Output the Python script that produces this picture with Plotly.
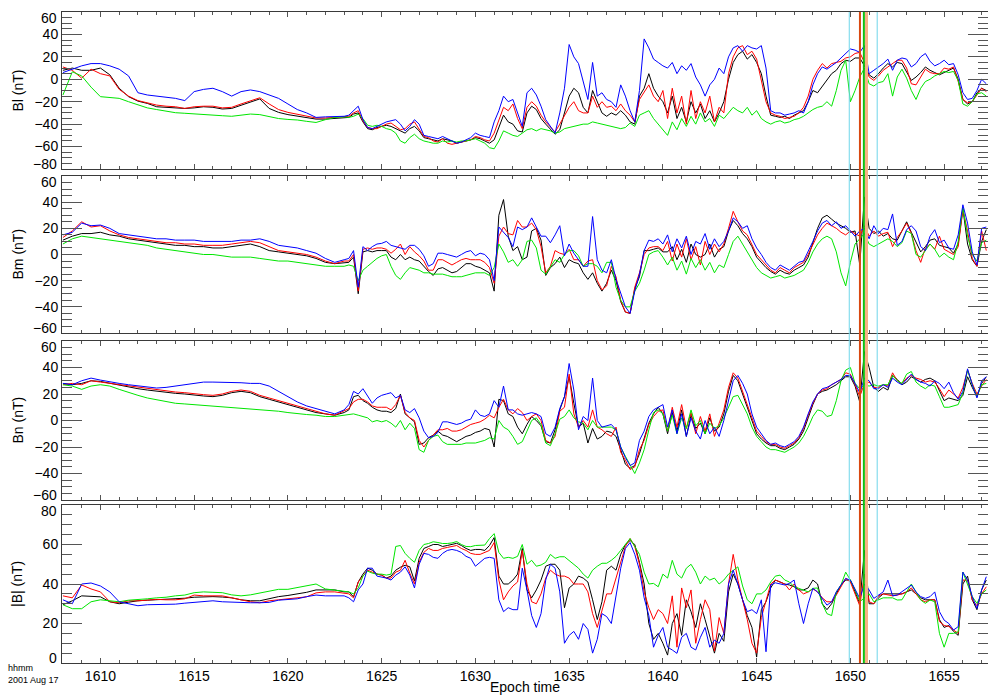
import plotly.graph_objects as go

# ---------------------------------------------------------------- time axis
# Epoch time as HHMM with fractional minutes (2001 Aug 17)
TIME = [1608.0 + 0.5 * i for i in range(31)] + [1623.25 + 0.25 * i for i in range(137)]

TICK_TIMES = [1610, 1615, 1620, 1625, 1630, 1635, 1640, 1645, 1650, 1655]
TICK_LABELS = ["1610", "1615", "1620", "1625", "1630", "1635", "1640", "1645", "1650", "1655"]

# marker lines (time, colour, width)
EVENT_TIMES = [1649.94, 1650.51, 1650.72, 1650.86, 1651.43]
EVENT_COLORS = ["#6fd6ea", "#d9480f", "#10c010", "#f6b285", "#6fd6ea"]
EVENT_WIDTHS = [1, 2, 2, 3, 1]

# ---------------------------------------------------------------- Bl (nT)
BL_BLACK = [8, 10, 8, 8, 10, 4, -8, -15.5, -19.5, -21.5, -24.5, -25, -25, -26, -25.5, -24.5,
            -25, -26.5, -26, -23, -20.5, -17.5, -26, -29.5, -31.5, -33, -34.5, -35.5, -35.5, -35, -34,
            -34, -31, -30, -38,  -44, -45, -43, -42,  -41, -42, -44, -46,  -48, -44, -42, -46,
            -52, -53, -54, -55,  -53, -54, -55, -57,  -56, -55, -54, -52,  -53, -55, -57, -54,
            -42, -32, -38, -40,  -46, -47, -30, -24,  -27, -35, -40, -45,  -49, -45, -30, -15,
            -8, -12, -25, -30,  -10, -20, -30, -33,  -30, -32, -28, -32,  -38, -40, -15, -8,
            5, -8, -15, -20,  -30, -15, -35, -25,  -38, -20, -30, -22,  -35, -28, -38, -30,
            -20, 0, 15, 22,  25, 18, 22, 15,  5, -15, -32, -33,  -34, -33, -35, -32,
            -30, -28, -20, -10,  -12, -6, -1, 5,  8, 14, 17, 16,  19, 19, 12, 4,
            1, 5, 10, 14,  11, 15, 14, 7,  -1, 2, 6, 11,  8, 6, 4, 6,
            8, 10, 0, -18,  -22, -20, -12, -8,  -10]
BL_RED = [11, 8, 1, 9, 5, 3, -9, -15, -19, -21, -23, -24, -24.5, -26, -24.5, -24,
          -24, -25.5, -25, -22, -19, -16.5, -22, -27, -29.5, -31, -33, -34.5, -34.5, -34, -33.5,
          -33, -30, -28, -37,  -43, -44, -44, -42,  -40, -39, -42, -45,  -44, -40, -38, -45,
          -51, -52, -55, -56,  -53, -57, -58, -57,  -56, -55, -54, -51,  -52, -54, -55, -48,
          -36, -25, -28, -22,  -35, -44, -25, -20,  -24, -32, -38, -43,  -47, -40, -32, -25,
          -20, -28, -30, -30,  -15, -25, -20, -25,  -24, -28, -22, -28,  -32, -38, -18, -12,
          -5, -15, -20, -10,  -35, -8, -30, -15,  -40, -10, -35, -20,  -30, -15, -38, -25,
          -30, 5, 20, 28,  30, 22, 25, 18,  0, -20, -30, -32,  -33, -35, -34, -33,
          -30, -25, -15, 0,  8, 14, 10, 14,  15, 16, 19, 20,  23, 24, 15, 2,
          -1, 3, 8, 11,  14, 17, 17, 10,  -4, -5, 2, 9,  6, 5, 5, 10,
          9, 11, -2, -18,  -21, -20, -14, -8,  -11]
BL_GREEN = [-14, 6.7, 3, -7, -15.5, -16.5, -17, -20, -23, -25.5, -27, -28.5, -29.8, -30.3, -30.7, -31.5,
            -32, -32.5, -33, -32, -31, -31.5, -33, -35, -35.8, -36.3, -37.5, -38.5, -36, -34, -33.5,
            -34, -33, -31, -35,  -41, -42, -41, -42,  -44, -45, -48, -55,  -57, -52, -49, -53,
            -55, -56, -57, -57,  -55, -56, -55, -56,  -55, -55, -54, -53,  -55, -57, -61, -62,
            -55, -46, -48, -50,  -51, -48, -45, -44,  -46, -44, -45, -46,  -48, -47, -44, -43,
            -42, -41, -40, -40,  -38, -39, -40, -41,  -42, -43, -44, -43,  -39, -42, -32, -30,
            -28, -35, -40, -45,  -50, -38, -45, -35,  -42, -33, -40, -30,  -38, -35, -42, -32,
            -35, -30, -25, -28,  -30, -25, -32, -28,  -35, -38, -40, -38,  -37, -39, -38, -36,
            -35, -33, -30, -27,  -25, -24, -20, -24,  -10, 8, 17, -20,  -10, 2, 10, -4,
            -6, -3, -2, 5,  -15, 2, 9, 1,  -10, -18, -8, -2,  0, 3, 5, 7,
            6, 7, -1, -22,  -24, -20, -13, -12,  -15]
BL_BLUE = [6, 9, 12, 14, 14, 12, 9, 3, -12, -14, -15, -16, -17, -19, -11, -9,
           -8, -11, -15, -11, -9.5, -11, -14, -17, -22, -27, -30, -34, -33.5, -33, -33,
           -32, -28, -24, -36,  -43, -44, -42, -40,  -38, -37, -36, -40,  -46, -42, -36, -40,
           -50, -51, -52, -53,  -51, -53, -55, -57,  -56, -54, -52, -48,  -50, -51, -52, -38,
           -28, -15, -20, -18,  -30, -42, -12, -8,  -14, -24, -36, -42,  -48, -30, -8, 31,
           20, 14, -2, -18,  15, -15, -12, -18,  -20, -25, -5, -15,  -28, -38, -10, 36,
           28, 18, 15, 12,  10, 15, 5, 12,  8, 14, 2, -5,  -15, -5, 0, 10,
           5, 20, 28, 30,  25, 30, 28, 27,  30, 10, -28, -30,  -30, -32, -31, -30,
           -28, -30, -20, -5,  5, 11, 9, 12,  15, 19, 23, 27,  26, 24, 30, 5,
           8, 11, 14, 18,  8, 17, 19, 18,  11, 14, 20, 23,  16, 12, 14, 17,
           13, 14, 4, -12,  -18, -17, -10, 0,  -4]

# ---------------------------------------------------------------- Bm (nT)
BM_BLACK = [11, 14, 16, 16, 17, 15, 14, 12, 11, 10, 9, 8, 7, 7, 6, 6,
            5, 5, 6, 7, 8, 6, 3, 2, 1, 0, -1, -3, -6, -7, -6,
            -6, -2, -30, 2,  3, 2, 3, 3,  3, -2, -4, 0,  -4, -2, -4, -5,
            -9, -13, -16, -11,  -10, -12, -14, -13,  -10, -7, -7, -9,  -10, -12, -14, -28,
            30, 42, 14, 3,  6, -4, -2, 18,  20, 11, -16, -10,  -7, -2, -10, -4,
            -6, -7, -14, -19,  -14, -22, -28, -22,  -12, -20, -36, -44,  -45, -26, -17, 3,
            3, 4, 5, 2,  2, 6, -4, 4,  -6, 8, 0, -2,  0, 8, -2, 4,
            6, 18, 26, 22,  16, 12, 6, -2,  -6, -10, -13, -15,  -12, -14, -15, -12,
            -10, -8, -2, 10,  20, 28, 30, 27,  24, 22, 20, 17,  18, -8, 44, 20,
            16, 18, 14, 16,  12, 11, 18, 25,  17, 10, 2, 6,  11, 12, 7, 6,
            5, 1, 8, 35,  8, -4, -9, 10,  19]
BM_RED = [13, 18, 25, 21, 22, 18, 15, 13, 12, 11, 10, 9, 9, 8, 8, 7,
          7, 7, 8, 9, 10, 9, 6, 3, 2, 1, 0, -2, -5, -7, -5,
          -5, 0, -28, 4,  5, 4, 5, 5,  4, 1, 4, 8,  0, 6, 2, -1,
          -5, -12, -12, -4,  -4, -6, -8, -6,  -4, -3, -4, -4,  -4, -6, -10, -22,
          14, 21, 16, 15,  26, 21, 21, 24,  19, 6, -14, -9,  3, 1, 0, 4,
          -4, -4, -9, -5,  -4, -20, -27, -24,  -9, -17, -35, -44,  -45, -25, -14, 0,
          5, 6, 6, 3,  10, -5, 8, -2,  12, -4, 6, -8,  10, 0, 8, 2,
          8, 20, 33, 25,  18, 15, 8, 0,  -4, -8, -12, -14,  -10, -12, -14, -10,
          -8, -6, 0, 8,  15, 20, 24, 22,  20, 17, 15, 18,  16, 14, 22, 14,
          18, 14, 16, 17,  6, 13, 18, 24,  16, 3, -6, 5,  8, 4, 14, 4,
          2, 0, 6, 34,  18, -3, -9, 18,  3]
BM_GREEN = [8, 12, 14, 13, 12, 11.5, 10, 9, 8, 7, 5, 4, 3, 2, 1, 0,
            0, -1, -2, -2, -2, -3, -4, -5, -5, -6, -7, -8, -9, -9, -9,
            -8, -9, -20, -12,  -9, -6, -3, -1,  0, -9, -16, -19,  -14, -10, -11, -12,
            -14, -14, -15, -15,  -15, -16, -17, -17,  -17, -16, -15, -14,  -14, -14, -16, -10,
            8, 2, -6, -4,  -9, -4, 10, 11,  5, -12, -15, -10,  -4, -6, 0, 3,
            3, -1, -9, -7,  -7, -9, -14, -6,  -6, -25, -35, -40,  -40, -28, -22, -12,
            0, 2, 3, -2,  -8, -2, -12, -5,  -15, -3, -10, -4,  -12, -6, -14, -8,
            -10, 0, 10, 14,  8, 2, -4, -10,  -14, -16, -18, -17,  -16, -18, -17, -16,
            -14, -12, -6, 2,  8, 12, 14, 12,  2, -14, -24, -6,  8, 12, 16, 8,
            6, 8, 10, 12,  10, 6, 9, 18,  16, 0, -2, 3,  8, 4, -2, 1,
            -2, -4, 10, 36,  14, 0, -5, 9,  11]
BM_BLUE = [15, 17, 24, 22, 22.5, 20, 16, 15, 14, 13, 12, 12, 11, 11, 11, 10,
           10, 10, 10, 11, 11, 12, 10, 7, 6, 5, 3, 1, -3, -6, -4,
           -3, 3, -25, 6,  3, 6, 8, 8.5,  10, 7, 6, 5,  4, 7, 7, 4,
           -1, -9, -7, 1,  1, 0, -1, -2,  0, 2, 3, -1,  1, 0, -4, -20,
           21, 17, 13, 6,  21, 19, 21, 28,  21, 14, 14, 9,  15, 22, -1, 8,
           1, -4, -9, -9,  29, -4, -12, -14,  -4, -19, -30, -40,  -45, -28, -15, 3,
           11, 10, 12, 8,  15, 2, 12, 5,  14, 0, 10, 8,  16, 4, 12, 6,
           10, 18, 28, 25,  20, 22, 12, 5,  0, -6, -10, -12,  -8, -10, -12, -9,
           -6, -5, 2, 10,  18, 24, 26, 22,  25, 20, 22, 18,  14, 18, 20, 12,
           22, 16, 20, 19,  31, 7, 10, 19,  22, 18, 6, 3,  14, 19, 9, 11,
           5, 4, 15, 38,  24, 2, -8, 20,  21]

# ---------------------------------------------------------------- Bn (nT)
BN_BLACK = [28, 27, 28, 30, 29.5, 28, 27, 25, 24, 23, 22, 21, 20.5, 20, 19, 18.5,
            18, 19, 21, 22, 21, 18, 16, 14, 12, 10, 8, 6, 5, 4, 6,
            8, 18, 19, 15,  13, 10, 8, 7,  7, 6, 9, 20,  5, 2, -1, -18,
            -17, -13, -11, -8,  -11, -12, -14, -16,  -14, -12, -11, -9,  -8, -6, -7, -20,
            16, 15, 5, 3,  -5, -10, -3, 3,  0, -4, -16, -17,  -7, 8, 18, 33,
            13, -5, -2, -17,  -6, -14, -12, -8,  -9, -12, -22, -33,  -36, -34, -25, -13,
            -2, 5, 10, 5,  -10, 6, -8, 8,  -12, 4, -6, -2,  -10, 2, -8, -5,
            5, 22, 34, 30,  20, 10, 0, -10,  -14, -17, -19, -19,  -21, -22, -20, -18,
            -14, -8, 2, 12,  20, 22, 23, 25,  27, 30, 33, 33,  26, 14, 52, 40,
            25, 22, 25, 23,  34, 31, 27, 29,  33, 31, 29, 31,  32, 30, 22, 15,
            17, 16, 15, 19,  33, 25, 18, 28,  33]
BN_RED = [27, 28, 27, 30, 29, 28, 27, 26, 25, 24, 23, 22, 21.5, 21, 20, 19.5,
          19, 20, 22, 23, 22, 19, 17, 15, 13, 11, 9, 7, 5, 4, 7,
          9, 14, 16, 16,  14, 11, 10, 10,  10, 8, 12, 19,  6, 2, 0, -15,
          -20, -15, -11, -7,  -7, -6, -8, -8,  -7, -5, -3, -2,  -1, 1, 4, 2,
          10, 16, 8, 5,  9, 6, 0, 3,  5, 0, -15, -17,  -12, 7, 10, 35,
          5, -5, 0, -5,  8, -5, -7, -10,  -12, -5, -24, -30,  -37, -35, -22, -15,
          -3, 3, 7, 8,  -8, 10, -5, 12,  -6, 6, -10, 3,  -8, 5, -12, -2,
          8, 25, 36, 32,  22, 12, 2, -8,  -12, -16, -18, -18,  -20, -21, -19, -17,
          -13, -6, 4, 13,  20, 23, 24, 27,  29, 31, 36, 35,  27, 18, 28, 29,
          25, 25, 27, 26,  36, 30, 28, 32,  34, 32, 31, 29,  30, 29, 24, 18,
          23, 20, 17, 25,  38, 28, 20, 26,  31]
BN_GREEN = [27, 26, 23.5, 26, 27, 26, 23.5, 21, 19, 17, 15.5, 14, 13, 12.5, 12, 11.5,
            11, 10, 9.5, 9, 9, 8.5, 8, 7, 6, 5, 4.5, 4, 3, 3, 4,
            5, 5, 4, 3,  2, -1, 0, -1,  0, -2, -5, 0,  -7, -2, -6, -22,
            -24, -15, -12, -11,  -16, -18, -18, -18,  -18, -17, -17, -17,  -16, -15, -13, -14,
            0, -5, -7, -12,  -18, -16, -8, 0,  2, -3, -17, -19,  -10, 1, 3, 8,
            2, -1, -2, -7,  0, -5, -5, -5,  -5, -7, -20, -27,  -34, -40, -32, -22,
            -7, 6, 8, 5,  -8, 4, -10, 2,  -6, 8, -4, 0,  -10, -2, -6, -4,
            2, 10, 18, 19,  12, 5, -5, -12,  -16, -20, -22, -22,  -23, -24, -22, -20,
            -17, -12, -5, 3,  8, 7, 3, 4,  15, 30, 38, 40,  28, 24, 27, 26,
            27, 26, 27, 27,  34, 30, 28, 35,  37, 29, 26, 24,  27, 26, 18, 10,
            10, 11, 12, 21,  38, 27, 18, 27,  28]
BN_BLUE = [28, 27, 30, 32, 30.5, 29, 28, 27, 26, 25, 24.5, 25, 26, 27, 28, 29,
           29, 29, 29, 28.5, 28, 28, 26, 22, 18, 14, 11, 9, 7, 5, 8,
           12, 22, 20, 24,  18, 13, 17, 19,  20, 21, 17, 19,  8, 6, 9, 2,
           -8, -13, -12, -9,  -1, -1, -2, -3,  -2, 0, 1, 8,  4, 3, 5, 15,
           10, 26, 8, 8,  5, 4, 5, 6,  5, 3, -10, -12,  -5, 9, 18, 43,
           23, -7, 3, 0,  32, 0, -5, -4,  -3, -7, -20, -28,  -34, -32, -15, -8,
           3, 8, 10, 12,  -5, 8, -10, 5,  -12, 2, -8, -14,  0, -10, -5, -12,
           0, 15, 30, 34,  28, 20, 5, -5,  -10, -15, -18, -17,  -19, -20, -18, -16,
           -12, -5, 5, 14,  20, 24, 25, 27,  29, 31, 34, 34,  28, 21, 32, 30,
           24, 24, 27, 25,  32, 29, 27, 31,  35, 31, 29, 28,  26, 30, 28, 24,
           29, 21, 16, 22,  39, 27, 17, 30,  33]

# ---------------------------------------------------------------- |B| (nT)
BT_BLACK = [29.5, 31.5, 34, 33.8, 33.5, 31, 30, 30.8, 31.5, 31.8, 32, 32.3, 32.5, 32.8, 33.3, 33.6,
            33.6, 33.4, 33, 32, 31.5, 31.5, 32.5, 33.6, 34.2, 35, 35.8, 37, 37, 37, 36,
            36, 33.5, 41, 45,  48, 47, 45, 44.5,  43, 44, 47, 48.5,  49.5, 48.7, 41.5, 53,
            58, 59, 60, 60,  59, 59.5, 60, 60.6,  59.5, 58, 57, 57.5,  57.5, 57, 59.5, 63.5,
            44, 40, 40, 42,  45, 58, 37, 33,  37, 42, 49, 50,  50, 47, 28, 38,
            40, 44, 43, 41,  32, 22, 31, 47,  49, 47, 55, 60,  62, 60, 51, 40,
            20, 12, 15, 10,  4, 20, 25, 14,  32, 26, 18, 30,  22, 13, 5, 15,
            11, 36, 45, 40,  32, 24, 18, 3,  27, 31, 38, 42,  41, 40, 39.5, 38.6,
            37, 37, 38, 42,  40, 30, 27, 30,  35, 39.5, 42, 42,  36, 30, 57, 30,
            30, 33, 35, 35,  35, 35, 35, 36,  37, 35, 33, 32,  32, 32, 22, 18,
            19, 16, 14, 40,  44, 32, 27, 37,  42]
BT_RED = [34, 33, 39.5, 37.5, 36, 31, 30.5, 31.5, 31.5, 31.8, 32.2, 32, 32, 32.5, 34.4, 34,
          34, 34, 33, 32, 31, 30.5, 31.5, 32, 32.5, 33, 33.5, 35.5, 36, 36, 35.5,
          35, 33, 41, 44,  47, 46, 45, 44.5,  43, 43, 46, 47,  52, 45.5, 40, 51,
          56, 58, 57, 57,  58, 58.5, 59, 59.5,  58, 57, 55.5, 55,  55, 56, 57, 61,
          42, 32, 36, 39,  41, 57, 40, 31,  30, 35, 43, 47,  45, 44, 44, 43,
          40, 40, 40, 36,  25, 18, 27, 35,  35, 43, 52, 59,  63, 59, 50, 36,
          28, 22, 27, 25,  20, 34, 8, 38,  28, 37, 10, 22,  32, 27, 6, 23,
          15, 40, 55, 42,  32, 22, 10, 5,  23, 32, 40, 42,  41, 40, 37, 40,
          37, 35, 36, 37.5,  36, 33, 31, 31,  34.4, 38.6, 42.8, 41,  35, 29, 45, 31,
          30, 34, 35, 34.5,  34, 34.4, 35, 36,  38, 35, 32, 31,  32, 32, 21, 19,
          18.5, 16.7, 15, 42,  42, 32, 29, 35,  38.6]
BT_GREEN = [29.5, 27.5, 27.5, 31, 32, 31.5, 31, 31.8, 32, 32.5, 33, 33.3, 34, 34.4, 35.6, 36,
            35.8, 35.6, 34.5, 34, 34.5, 35.5, 36.5, 37.3, 37.3, 38.2, 39, 40, 37.5, 37, 36.5,
            36, 35, 38, 44,  46.5, 45.5, 45, 45,  44.5, 45, 59, 59.5,  55.5, 53, 51, 57,
            60, 60.5, 61.4, 61,  60.5, 60.5, 60.8, 61.5,  60, 59, 58.9, 59.5,  59.7, 59.7, 63, 65.5,
            56, 53, 53.5, 53,  54, 60, 50, 52,  49, 49.6, 51, 55,  53, 53.8, 53.8, 52,
            50, 48, 45, 43,  47, 49, 50.5, 50.5,  52, 54, 57, 60,  63, 59, 55, 46,
            40, 40.3, 38.6, 45,  43, 52, 45, 43,  48, 50, 46, 40,  44, 42, 43, 40,
            42, 45, 47, 48.7,  39, 32, 30, 35,  35, 37, 41, 44,  44.5, 42, 41, 38.6,
            37.8, 37, 36, 37.8,  38, 30, 25, 24,  36, 39.5, 46, 42,  37, 31, 33, 35,
            31, 32, 33, 33,  33, 31.9, 32, 36,  40, 36, 31.9, 30.2,  31.9, 31, 15, 8,
            15, 15, 15.8, 46,  40, 33.6, 30.2, 35,  37]
BT_BLUE = [32, 30, 40, 40.5, 39, 36, 31, 30, 29, 29.5, 29.5, 29.5, 29.8, 30.3, 30.8, 31,
           31.5, 31, 30.8, 30.5, 30.5, 30.5, 30.7, 31.8, 32, 32.5, 33.6, 34.4, 34, 34, 34,
           33, 31, 37, 40,  48, 48, 44, 43.5,  43, 42, 44.5, 46,  48.7, 44.5, 38, 50,
           55.5, 55, 53.5, 53,  55.5, 57, 57.5, 57,  56, 54, 53, 49,  51, 53, 53.5, 53,
           32, 26, 28, 27,  27, 48, 37, 24,  18, 25, 42, 50,  48, 36, 10, 14,
           16, 12, 20, 17,  5, 12, 25, 23.5,  20, 33, 48, 58,  61, 55, 47, 33,
           24, 8, 14, 18,  8, 6.6, 4.9, 13,  15, 8, 6.6, 13,  18, 8, 11.6, 10,
           15, 40, 47, 40,  32, 26, 27, 25,  32, 5.7, 39.5, 40.6,  40, 39.5, 40.3, 42,
           30, 20, 30, 37.8,  36, 32.7, 29.3, 31,  36, 39.5, 42.8, 42,  37, 32.7, 40, 37,
           32.7, 34.4, 36, 42,  34, 34.4, 36, 37.8,  39.5, 36, 33.6, 32.7,  33.6, 36, 26, 21.7,
           20, 16.7, 18.4, 46,  42, 33.6, 27.6, 37,  43.7]

PANELS = [
    ("Bl (nT)", -80, 60, [BL_BLACK, BL_RED, BL_GREEN, BL_BLUE]),
    ("Bm (nT)", -60, 60, [BM_BLACK, BM_RED, BM_GREEN, BM_BLUE]),
    ("Bn (nT)", -60, 60, [BN_BLACK, BN_RED, BN_GREEN, BN_BLUE]),
    ("|B| (nT)", 0, 80, [BT_BLACK, BT_RED, BT_GREEN, BT_BLUE]),
]
SERIES_COLORS = ["#000000", "#ff0000", "#00e600", "#0000ff"]
SERIES_NAMES = ["C1", "C2", "C3", "C4"]

for _, _, _, series in PANELS:
    for s in series:
        assert len(s) == len(TIME), (len(s), len(TIME))

# ---------------------------------------------------------------- layout
W, H = 988, 695
ML, MR, MT, MB = 62, 0, 12, 32
PH = H - MT - MB
PW = W - ML - MR
PANEL_PX = [(12, 169), (176, 333), (341, 500), (505, 663)]  # top, bottom in px
XMIN, XMAX = 1607.95, 1657.34
FONT = "Liberation Sans, Arial, Helvetica, sans-serif"
AXCOL = "#3a3a3a"
TICKCOL = "#555555"


def py(px):
    return (H - MB - px) / PH


def fmt(v):
    return str(v).replace("-", "\u2212")


fig = go.Figure()
layout = dict(
    width=W, height=H,
    margin=dict(l=ML, r=MR, t=MT, b=MB, pad=0),
    paper_bgcolor="white", plot_bgcolor="white",
    showlegend=False, hovermode=False,
    font=dict(family=FONT, size=14, color="black"),
)
annotations = []

for i, (label, lo, hi, series) in enumerate(PANELS):
    n = "" if i == 0 else str(i + 1)
    xname, yname = "x" + n, "y" + n
    top_px, bot_px = PANEL_PX[i]
    for s, col, nm in zip(series, SERIES_COLORS, SERIES_NAMES):
        fig.add_trace(go.Scatter(x=TIME, y=s, mode="lines", name=nm,
                                 line=dict(color=col, width=1),
                                 xaxis=xname, yaxis=yname))
    layout["xaxis" + n] = dict(
        domain=[0, 1], anchor=yname, range=[XMIN, XMAX],
        tickmode="array", tickvals=TICK_TIMES, ticktext=TICK_LABELS,
        showticklabels=(i == 3), ticks="inside", ticklen=5, tickcolor=TICKCOL,
        minor=dict(tickmode="linear", tick0=1610, dtick=1, ticks="inside",
                   ticklen=3, tickcolor=TICKCOL),
        mirror="ticks", showline=True, linecolor=AXCOL, linewidth=1,
        showgrid=False, zeroline=False, tickfont=dict(size=14),
    )
    vals = list(range(lo, hi + 1, 20))
    texts = ["" if v in (lo, hi) else fmt(v) for v in vals]
    layout["yaxis" + n] = dict(
        domain=[py(bot_px), py(top_px)], anchor=xname, range=[lo, hi],
        tickmode="array", tickvals=vals, ticktext=texts,
        ticks="inside", ticklen=20, tickcolor=TICKCOL,
        minor=dict(tickmode="linear", tick0=lo, dtick=5, ticks="inside",
                   ticklen=10, tickcolor=TICKCOL),
        mirror="ticks", showline=True, linecolor=AXCOL, linewidth=1,
        showgrid=False, zeroline=False, tickfont=dict(size=14),
    )
    # end labels nudged inside the panel, as in the original
    for v, shift in ((lo, 5), (hi, -6)):
        annotations.append(dict(x=0, xref="paper", y=v, yref=yname, text=fmt(v),
                                showarrow=False, xanchor="right", yanchor="middle",
                                xshift=-3, yshift=shift, font=dict(size=14)))
    annotations.append(dict(x=(17 - ML) / PW, xref="paper",
                            y=py((top_px + bot_px) / 2), yref="paper",
                            text=label, textangle=-90, showarrow=False,
                            xanchor="center", yanchor="middle", font=dict(size=14)))

annotations.append(dict(x=0.5, xref="paper", y=py(687), yref="paper", text="Epoch time",
                        showarrow=False, xanchor="center", yanchor="middle",
                        font=dict(size=14)))
annotations.append(dict(x=(7 - ML) / PW, xref="paper", y=py(674), yref="paper",
                        text="hhmm<br>2001 Aug 17", showarrow=False, xanchor="left",
                        yanchor="middle", align="left", borderpad=0,
                        font=dict(size=9)))

shapes = []
for t, c, w in zip(EVENT_TIMES, EVENT_COLORS, EVENT_WIDTHS):
    shapes.append(dict(type="line", xref="x", yref="paper", x0=t, x1=t, y0=0, y1=1,
                       line=dict(color=c, width=w), layer="above"))

layout["annotations"] = annotations
layout["shapes"] = shapes
fig.update_layout(**layout)
fig.write_html("out.html")
